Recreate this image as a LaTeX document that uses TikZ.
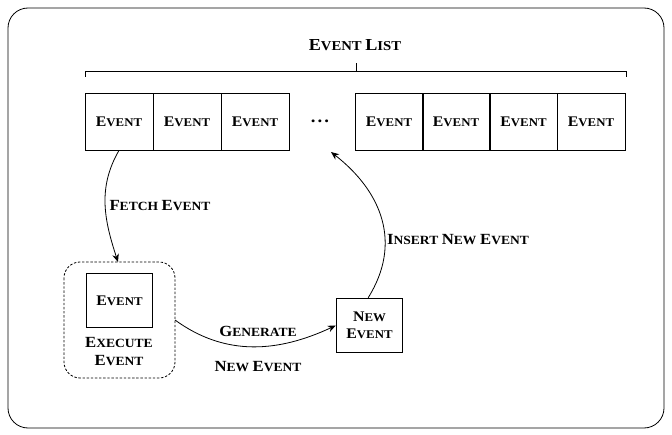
\documentclass[tikz,border=0pt]{standalone}
\usepackage{fontspec}
\setmainfont[FakeStretch=1.08]{Liberation Serif}
\usetikzlibrary{arrows.meta}
\newcommand\smc[2]{{\fontsize{11}{12}\selectfont #1}{\fontsize{8.9}{10}\selectfont #2}}
\newcommand\smcl[2]{{\fontsize{11.6}{12}\selectfont #1}{\fontsize{9.4}{10}\selectfont #2}}
\newcommand\smct[2]{{\fontsize{12.6}{14}\selectfont #1}{\fontsize{10.2}{12}\selectfont #2}}
\tikzset{
  evbox/.style={draw, line width=0.6pt, minimum width=51pt, minimum height=42.75pt, inner sep=0pt, font=\bfseries},
  lbl/.style={font=\bfseries, align=center, inner sep=0pt},
  conn/.style={line width=0.6pt, -{Stealth[length=6pt,width=5pt]}}
}
\begin{document}
\begin{tikzpicture}[x=0.75pt,y=-0.75pt]
\useasboundingbox (0,0) rectangle (672,435);
\draw[line width=0.6pt, rounded corners=15pt] (8,8) rectangle (664,428);
% title and brace
\node[lbl] (title) at (355,45) {\smct{E}{VENT} \smct{L}{IST}};
\coordinate (bl) at (85,77);
\coordinate (br) at (626,77);
\coordinate (bm) at (356,71);
\coordinate (bt) at (356,63);
\draw[line width=0.6pt] (bl) -- (85,71) -- (br |- bm) -- (br);
\draw[line width=0.6pt] (bm) -- (bt);
% event row
\node[evbox] (e1) at (119,121.5) {\smc{E}{VENT}};
\node[evbox] (e2) at (187,121.5) {\smc{E}{VENT}};
\node[evbox] (e3) at (255,121.5) {\smc{E}{VENT}};
\node[lbl] (dots) at (320,121.5) {\fontsize{13}{14}\selectfont\bfseries .\kern1.5pt.\kern1.5pt.};
\node[evbox] (e4) at (389,121.5) {\smc{E}{VENT}};
\node[evbox] (e5) at (456,121.5) {\smc{E}{VENT}};
\node[evbox] (e6) at (523.5,121.5) {\smc{E}{VENT}};
\node[evbox] (e7) at (591,121.5) {\smc{E}{VENT}};
% execute group
\draw[line width=0.6pt, dash pattern=on 1.8pt off 1.3pt, rounded corners=12pt] (64,262) rectangle (175,378);
\coordinate (grpN) at (118,262);
\coordinate (grpE) at (175,320);
\node[evbox, minimum width=50pt, minimum height=41pt] (ex) at (119.5,300.5) {\smc{E}{VENT}};
\node[lbl] (exlbl) at (119,352) {\smcl{E}{XECUTE}\\[1.5pt]\smcl{E}{VENT}};
% new event
\node[evbox, minimum width=50pt, minimum height=41pt, align=center] (ne) at (369.5,325.5) {\smc{N}{EW}\\[1pt]\smc{E}{VENT}};
% connectors
\draw[conn] (e1.south) to[out=240,in=108] (grpN);
\node[lbl] (fetch) at (160,206) {\smcl{F}{ETCH} \smcl{E}{VENT}};
\draw[conn] (grpE) to[out=-36,in=205] (ne.west);
\node[lbl] (gen) at (258,331) {\smcl{G}{ENERATE}};
\node[lbl] (gen2) at (258,367) {\smcl{N}{EW} \smcl{E}{VENT}};
\draw[conn] ([xshift=-1pt]ne.north) to[out=58,in=-38,looseness=1.1] (331,152);
\node[lbl] (ins) at (458,240) {\smcl{I}{NSERT} \smcl{N}{EW} \smcl{E}{VENT}};
\end{tikzpicture}
\end{document}
